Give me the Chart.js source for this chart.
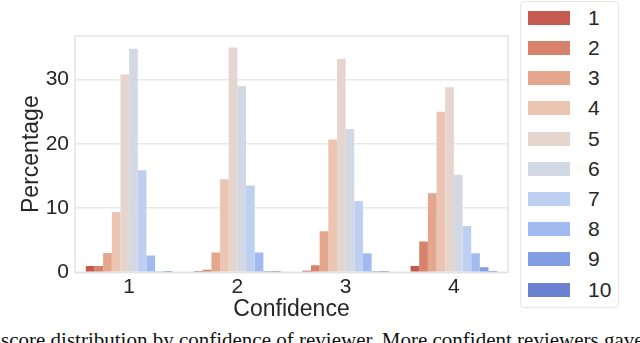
<!DOCTYPE html>
<html>
<head>
<meta charset="utf-8">
<script src="https://cdn.jsdelivr.net/npm/chart.js@4.4.1/dist/chart.umd.min.js"></script>
<style>
  html, body { margin: 0; padding: 0; background: #fff; }
  body { width: 640px; height: 343px; position: relative; overflow: hidden;
         font-family: "Liberation Sans", Arial, sans-serif; color: #262626; }
  #wrap { position: absolute; left: 0; top: 0; width: 512px; height: 325px; }
  #legend { position: absolute; left: 520px; top: 1px; width: 99px; height: 307px;
            border: 1px solid #e6e6e6; border-radius: 4px; box-sizing: border-box; }
  .item { position: absolute; left: 0; width: 97px; height: 24px; }
  .swatch { position: absolute; left: 7px; top: 5px; width: 42px; height: 14px; }
  .label { position: absolute; left: 67px; top: 0; font-size: 21px; line-height: 24px; }
  #caption { position: absolute; left: 1px; top: 330px; font-family: "Liberation Serif", "Times New Roman", serif;
             font-size: 21px; line-height: 21px; white-space: nowrap; color: #111; }
</style>
</head>
<body>
<div id="wrap"><canvas id="chart"></canvas></div>
<div id="legend"></div>
<div id="caption">score distribution by confidence of reviewer. More confident reviewers gave</div>
<script>
// Categories on the x axis (reviewer confidence) and the hue groups (review score)
const confidence = ['1', '2', '3', '4'];
const scores = ['1', '2', '3', '4', '5', '6', '7', '8', '9', '10'];

// Percentage of reviews with each score, per confidence level
const score1  = [1.0, 0.05, 0.25, 1.0];
const score2  = [1.0, 0.4, 1.1, 4.8];
const score3  = [3.0, 3.1, 6.4, 12.3];
const score4  = [9.4, 14.5, 20.7, 25.0];
const score5  = [30.8, 35.0, 33.2, 28.8];
const score6  = [34.8, 29.0, 22.3, 15.2];
const score7  = [15.9, 13.5, 11.1, 7.2];
const score8  = [2.6, 3.1, 2.95, 2.95];
const score9  = [0.15, 0.05, 0.2, 0.8];
const score10 = [0.03, 0.03, 0.03, 0.05];

const yTicks = [0, 10, 20, 30];

const seriesValues = [score1, score2, score3, score4, score5, score6, score7, score8, score9, score10];
const colors = ['#c45a50', '#d8826b', '#e4a68d', '#ecc5b2', '#e4d6ce',
                '#d3d9e4', '#bdd0f1', '#a1bbf0', '#849ee6', '#6b80d0'];

Chart.defaults.font.family = '"Liberation Sans", Arial, sans-serif';
Chart.defaults.color = '#262626';

// light frame around the plot area (seaborn whitegrid style)
const plotBorder = {
    id: 'plotBorder',
    beforeDatasetsDraw(chart) {
        const { ctx, chartArea: a } = chart;
        ctx.save();
        ctx.strokeStyle = '#e3e3e3';
        ctx.lineWidth = 1.5;
        ctx.strokeRect(a.left, a.top, a.right - a.left, a.bottom - a.top);
        ctx.restore();
    }
};

new Chart(document.getElementById('chart'), {
    type: 'bar',
    data: {
        labels: confidence,
        datasets: scores.map((s, i) => ({
            label: s,
            data: seriesValues[i],
            backgroundColor: colors[i],
            borderWidth: 0,
            categoryPercentage: 0.8,
            barPercentage: 1.0
        }))
    },
    options: {
        responsive: true,
        maintainAspectRatio: false,
        animation: false,
        devicePixelRatio: 1,
        layout: { padding: { top: 36, right: 4, left: 0, bottom: 0 } },
        plugins: {
            legend: { display: false },
            tooltip: { enabled: false }
        },
        scales: {
            x: {
                grid: { display: false, drawTicks: false },
                border: { display: false },
                ticks: { font: { size: 21 }, padding: 2, color: '#262626' },
                title: { display: true, text: 'Confidence', font: { size: 23 }, color: '#262626',
                         padding: { top: 0, bottom: 2 } },
                afterFit(scale) { scale.height = 52.7; }
            },
            y: {
                min: 0,
                max: 36.8,
                grid: { color: '#e8e8e8', lineWidth: 1.5, drawTicks: false },
                border: { display: false },
                afterBuildTicks(scale) { scale.ticks = yTicks.map(v => ({ value: v })); },
                ticks: { font: { size: 21 }, padding: 6, color: '#262626' },
                title: { display: true, text: 'Percentage', font: { size: 23 }, color: '#262626',
                         padding: { top: 17.7, bottom: 0 } },
                afterFit(scale) { scale.width = 75; }
            }
        }
    },
    plugins: [plotBorder]
});

// Legend box on the right, built from the same score list and colours
const legend = document.getElementById('legend');
scores.forEach((s, i) => {
    const item = document.createElement('div');
    item.className = 'item';
    item.style.top = (16.7 + 30.2 * i - 12 - 1) + 'px';
    item.innerHTML = `<div class="swatch" style="background:${colors[i]}"></div><div class="label">${s}</div>`;
    legend.appendChild(item);
});
</script>
</body>
</html>
